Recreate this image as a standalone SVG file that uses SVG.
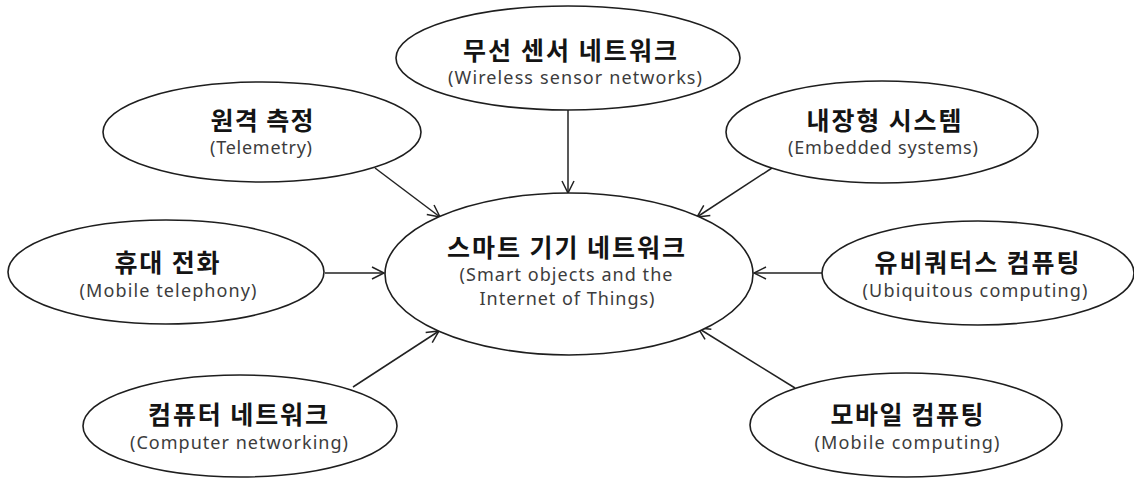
<svg xmlns="http://www.w3.org/2000/svg" width="1134" height="479" viewBox="0 0 1134 479">
  <style>
    .node ellipse { fill: #ffffff; stroke: #1e1e1e; stroke-width: 1.6; }
    .ko { font-family: "Noto Sans CJK KR", "Noto Sans", sans-serif; font-weight: 700; font-size: 25px; fill: #141414; text-anchor: middle; }
    .en { font-family: "Noto Sans", "Open Sans", "Liberation Sans", sans-serif; font-size: 18px; fill: #3c3c3c; text-anchor: middle; }
    .edge { stroke: #222222; stroke-width: 1.5; fill: none; marker-end: url(#arrow); }
  </style>
  <defs>
    <marker id="arrow" markerUnits="userSpaceOnUse" markerWidth="16" markerHeight="16" refX="13" refY="7" orient="auto">
      <path d="M1,1 L13,7 L1,13" fill="none" stroke="#222222" stroke-width="1.5"/>
    </marker>
  </defs>
  <rect width="1134" height="479" fill="#ffffff"/>

  <!-- connectors: every outer topic points to the central node -->
  <g id="connectors">
    <line class="edge" x1="568" y1="110" x2="568" y2="193"/>
    <line class="edge" x1="375" y1="168" x2="440" y2="217"/>
    <line class="edge" x1="772" y1="168" x2="697" y2="217"/>
    <line class="edge" x1="325" y1="273" x2="384" y2="273"/>
    <line class="edge" x1="822" y1="273" x2="754" y2="273"/>
    <line class="edge" x1="353" y1="387" x2="439" y2="331"/>
    <line class="edge" x1="795" y1="388" x2="698" y2="328"/>
  </g>

  <g id="node-center" class="node">
    <ellipse cx="569" cy="274" rx="184" ry="81"/>
    <text class="ko" x="566" y="257" textLength="238" lengthAdjust="spacing">스마트 기기 네트워크</text>
    <text class="en" x="566" y="281" textLength="213" lengthAdjust="spacing">(Smart objects and the</text>
    <text class="en" x="567" y="305" textLength="175" lengthAdjust="spacing">Internet of Things)</text>
  </g>

  <g id="node-wsn" class="node">
    <ellipse cx="568" cy="58" rx="172" ry="52"/>
    <text class="ko" x="570" y="60" textLength="214" lengthAdjust="spacing">무선 센서 네트워크</text>
    <text class="en" x="575" y="84" textLength="254" lengthAdjust="spacing">(Wireless sensor networks)</text>
  </g>

  <g id="node-telemetry" class="node">
    <ellipse cx="262" cy="132" rx="159" ry="50"/>
    <text class="ko" x="262" y="130" textLength="103" lengthAdjust="spacing">원격 측정</text>
    <text class="en" x="261" y="154" textLength="102" lengthAdjust="spacing">(Telemetry)</text>
  </g>

  <g id="node-embedded" class="node">
    <ellipse cx="882" cy="132" rx="156" ry="51"/>
    <text class="ko" x="884" y="130" textLength="155" lengthAdjust="spacing">내장형 시스템</text>
    <text class="en" x="883" y="154" textLength="190" lengthAdjust="spacing">(Embedded systems)</text>
  </g>

  <g id="node-mobile-telephony" class="node">
    <ellipse cx="166" cy="272" rx="158" ry="52"/>
    <text class="ko" x="167" y="272" textLength="105" lengthAdjust="spacing">휴대 전화</text>
    <text class="en" x="168" y="297" textLength="177" lengthAdjust="spacing">(Mobile telephony)</text>
  </g>

  <g id="node-ubiquitous" class="node">
    <ellipse cx="978" cy="273" rx="156" ry="52"/>
    <text class="ko" x="977" y="272" textLength="205" lengthAdjust="spacing">유비쿼터스 컴퓨팅</text>
    <text class="en" x="975" y="297" textLength="225" lengthAdjust="spacing">(Ubiquitous computing)</text>
  </g>

  <g id="node-computer-networking" class="node">
    <ellipse cx="240" cy="426" rx="157" ry="51"/>
    <text class="ko" x="238" y="424" textLength="180" lengthAdjust="spacing">컴퓨터 네트워크</text>
    <text class="en" x="239" y="449" textLength="218" lengthAdjust="spacing">(Computer networking)</text>
  </g>

  <g id="node-mobile-computing" class="node">
    <ellipse cx="906" cy="425" rx="156" ry="52"/>
    <text class="ko" x="907" y="424" textLength="153" lengthAdjust="spacing">모바일 컴퓨팅</text>
    <text class="en" x="907" y="449" textLength="185" lengthAdjust="spacing">(Mobile computing)</text>
  </g>
</svg>
